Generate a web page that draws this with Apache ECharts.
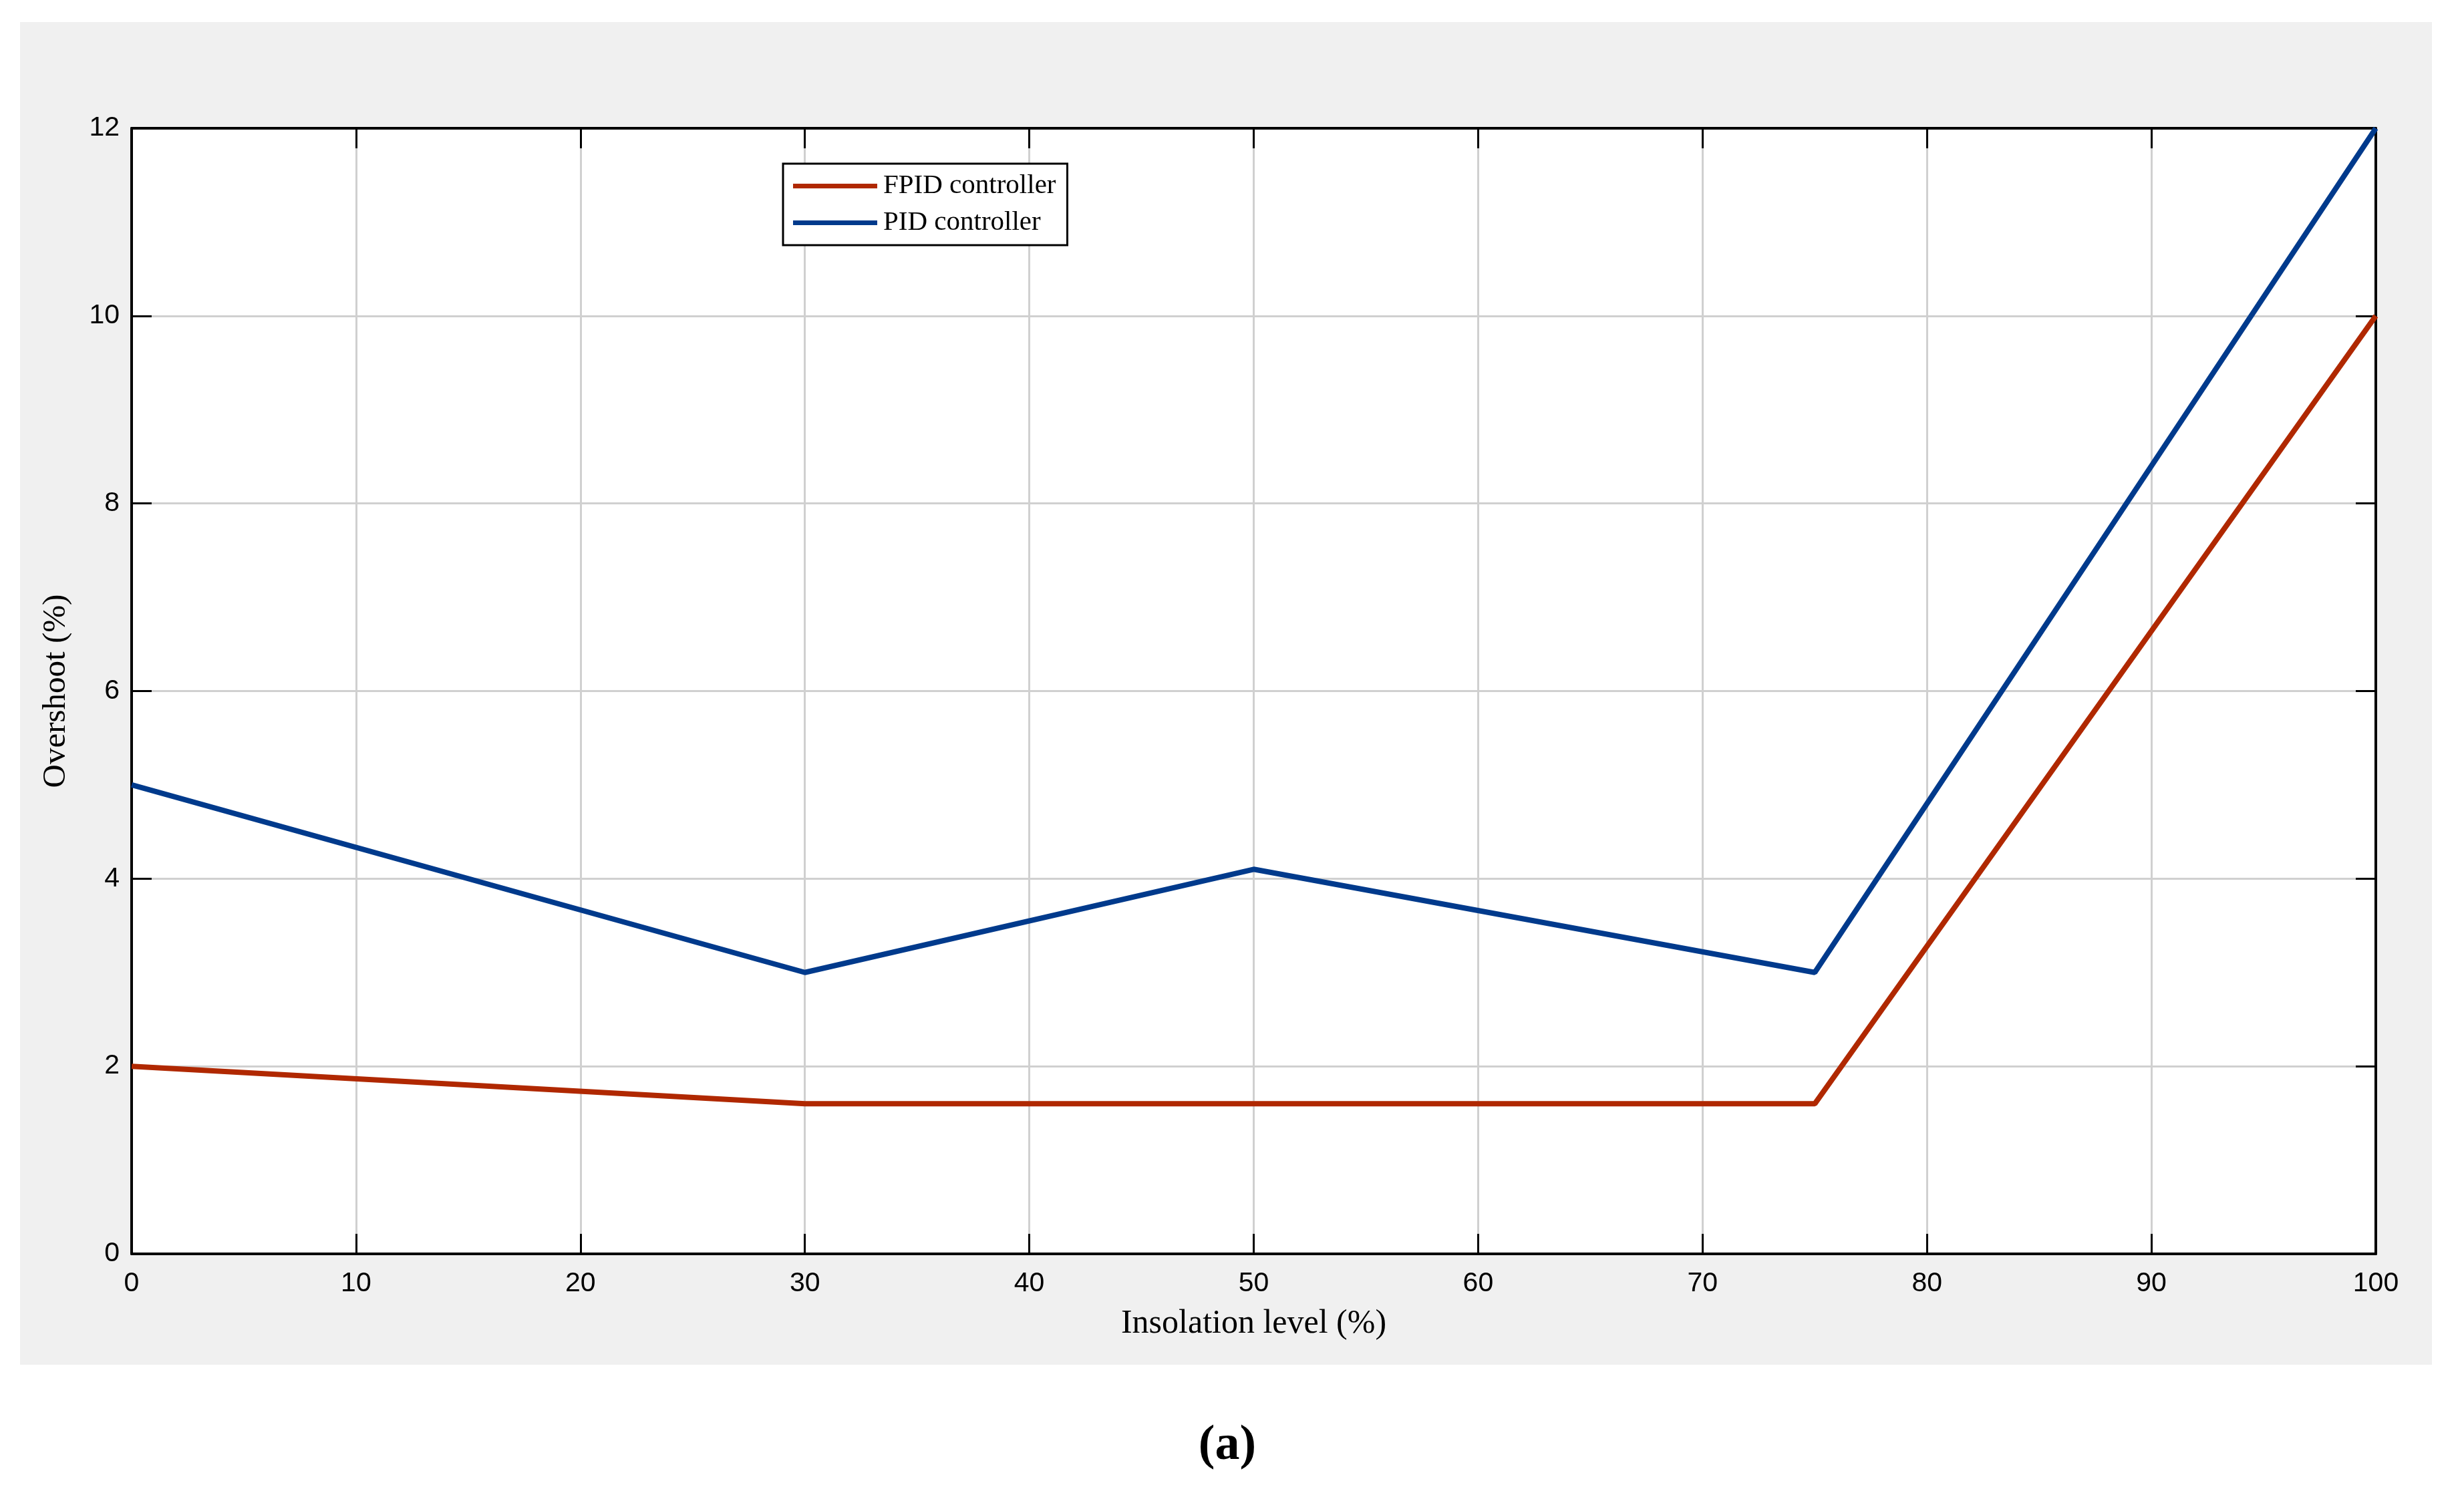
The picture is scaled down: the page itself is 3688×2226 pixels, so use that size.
<!DOCTYPE html>
<html>
<head>
<meta charset="utf-8">
<script src="https://cdn.jsdelivr.net/npm/echarts@6/dist/echarts.min.js"></script>
<style>
html,body{margin:0;padding:0;background:#fff;}
#main{width:3688px;height:2226px;}
</style>
</head>
<body>
<div id="main"></div>
<script>
// ---- data ----
const insolation = [0, 30, 50, 75, 100];
const fpidOvershoot = [2, 1.6, 1.6, 1.6, 10];
const pidOvershoot = [5, 3, 4.1, 3, 12];
const seriesNames = ['FPID controller', 'PID controller'];
const xAxisTitle = 'Insolation level (%)';
const yAxisTitle = 'Overshoot (%)';
const caption = '(a)';

const pairs = (xs, ys) => xs.map((x, i) => [x, ys[i]]);

const serif = '"Liberation Serif", "DejaVu Serif", serif';
const sans = '"Liberation Sans", Arial, sans-serif';

const chart = echarts.init(document.getElementById('main'), null, {renderer: 'canvas'});

const tickStyle = {show: true, inside: true, length: 30, lineStyle: {color: '#000', width: 3}};
const lineAxis = {show: true, onZero: false, lineStyle: {color: '#000', width: 4}};

chart.setOption({
  backgroundColor: '#fff',
  animation: false,
  graphic: [
    {type: 'rect', z: -10, silent: true, shape: {x: 30, y: 33, width: 3610, height: 2010}, style: {fill: '#f0f0f0'}},
    {type: 'text', x: 1837, y: 2165, style: {text: caption, font: 'bold 74px ' + serif, fill: '#000', align: 'center', verticalAlign: 'middle'}}
  ],
  grid: {left: 197, top: 192, right: 132, bottom: 349, show: true, backgroundColor: '#fff', borderColor: '#000', borderWidth: 0},
  legend: {
    data: seriesNames,
    orient: 'vertical',
    left: 1172, top: 245,
    backgroundColor: '#fff',
    borderColor: '#000', borderWidth: 3,
    padding: [13, 17, 13, 15],
    itemGap: 14,
    itemWidth: 126, itemHeight: 7,
    icon: 'rect',
    textStyle: {fontFamily: serif, fontSize: 41, color: '#000', lineHeight: 40, padding: [0, 0, 0, 4]}
  },
  xAxis: [
    {
      type: 'value', min: 0, max: 100, interval: 10, position: 'bottom',
      name: xAxisTitle, nameLocation: 'middle', nameGap: 80,
      nameTextStyle: {fontFamily: serif, fontSize: 50, color: '#000'},
      axisLine: lineAxis, axisTick: tickStyle,
      axisLabel: {fontFamily: sans, fontSize: 41, color: '#000', margin: 24},
      splitLine: {show: true, lineStyle: {color: '#d0d0d0', width: 3}}
    },
    {
      type: 'value', min: 0, max: 100, interval: 10, position: 'top',
      axisLine: lineAxis, axisTick: tickStyle, axisLabel: {show: false}, splitLine: {show: false}
    }
  ],
  yAxis: [
    {
      type: 'value', min: 0, max: 12, interval: 2, position: 'left',
      name: yAxisTitle, nameLocation: 'middle', nameGap: 88,
      nameTextStyle: {fontFamily: serif, fontSize: 49, color: '#000'},
      axisLine: lineAxis, axisTick: tickStyle,
      axisLabel: {fontFamily: sans, fontSize: 41, color: '#000', margin: 18},
      splitLine: {show: true, lineStyle: {color: '#d0d0d0', width: 3}}
    },
    {
      type: 'value', min: 0, max: 12, interval: 2, position: 'right',
      axisLine: lineAxis, axisTick: tickStyle, axisLabel: {show: false}, splitLine: {show: false}
    }
  ],
  series: [
    {
      name: seriesNames[0], type: 'line', data: pairs(insolation, fpidOvershoot),
      symbol: 'none', clip: false, color: '#B02800', z: 5,
      lineStyle: {color: '#B02800', width: 8}
    },
    {
      name: seriesNames[1], type: 'line', data: pairs(insolation, pidOvershoot),
      symbol: 'none', clip: false, color: '#003A8C', z: 5,
      lineStyle: {color: '#003A8C', width: 8}
    }
  ]
});
</script>
</body>
</html>
